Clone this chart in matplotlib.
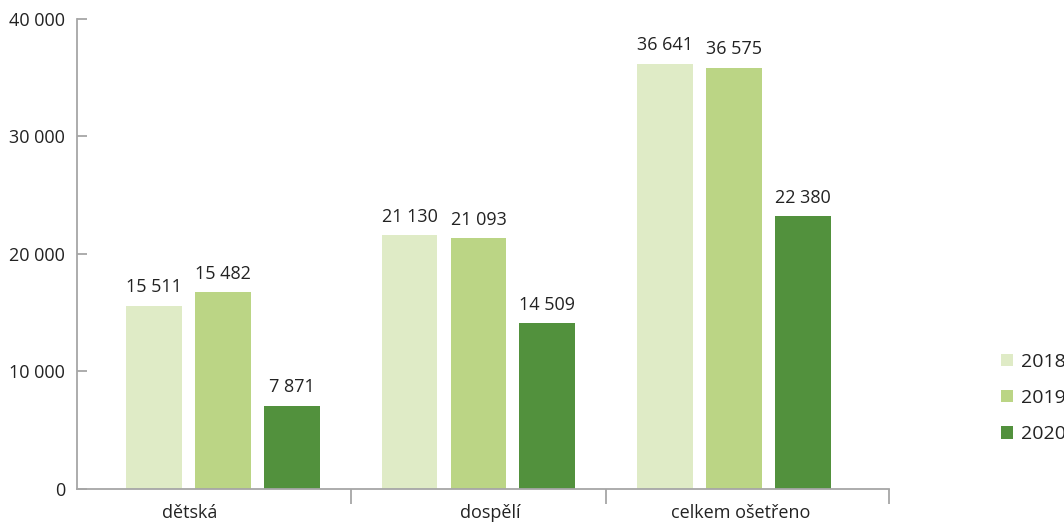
import numpy as np
import matplotlib
matplotlib.use("Agg")
import matplotlib.pyplot as plt
from matplotlib.ticker import FuncFormatter, FixedLocator

plt.rcParams['font.family'] = ['Open Sans', 'DejaVu Sans']

categories = ["dětská", "dospělí", "celkem ošetřeno"]
years = ["2018", "2019", "2020"]

# bar heights as drawn in the picture
heights_2018 = [15540, 21580, 36180]
heights_2019 = [16730, 21330, 35860]
heights_2020 = [7040, 14090, 23200]

# numbers printed above the bars
labels_2018 = [15511, 21130, 36641]
labels_2019 = [15482, 21093, 36575]
labels_2020 = [7871, 14509, 22380]

colors = ["#dfebc6", "#bbd585", "#52913d"]
text_color = "#222222"
axis_color = "#a6a6a6"


def fmt(v):
    return f"{v:,.0f}".replace(",", " ")


fig = plt.figure(figsize=(10.64, 5.24), dpi=100)
ax = fig.add_axes([0.0724, 0.0674, 0.8355 - 0.0724, 0.9637 - 0.0674])

x = np.arange(len(categories))
offset = 0.27
width = 0.219
series = [(heights_2018, labels_2018), (heights_2019, labels_2019), (heights_2020, labels_2020)]

for i, (h, lab) in enumerate(series):
    pos = x + (i - 1) * offset
    ax.bar(pos, h, width, color=colors[i], label=years[i], zorder=2)
    for px, hv, lv in zip(pos, h, lab):
        ax.annotate(fmt(lv), (px, hv), xytext=(0, 7), textcoords="offset points",
                    ha="center", va="bottom", fontsize=13, color=text_color)

ax.set_ylim(0, 40000)
ax.set_xlim(-0.5714, 2.6067)

for s in ["top", "right"]:
    ax.spines[s].set_visible(False)
for s in ["left", "bottom"]:
    ax.spines[s].set_color(axis_color)
    ax.spines[s].set_linewidth(1.3)

ax.set_yticks([0, 10000, 20000, 30000, 40000])
ax.yaxis.set_major_formatter(FuncFormatter(lambda v, p: fmt(v)))
ax.tick_params(axis="y", direction="in", length=7.2, width=1.3, color=axis_color,
               labelsize=13, labelcolor=text_color, pad=8.5)

# category names sit a little off the bar-group centres in the original
ax.set_xticks([-0.13, 1.045, 2.027])
ax.set_xticklabels(categories)
ax.xaxis.set_minor_locator(FixedLocator([0.5, 1.5, 2.6067]))
ax.tick_params(axis="x", which="major", length=0, labelsize=13, labelcolor=text_color, pad=11)
ax.tick_params(axis="x", which="minor", direction="out", length=10.6, width=1.3, color=axis_color)

# legend runs into the right edge, as in the original
ax.legend(loc="center left", bbox_to_anchor=(1001 / 1064, 0.2405),
          bbox_transform=fig.transFigure, frameon=False, fontsize=14,
          handlelength=0.62, handleheight=0.62, handletextpad=0.42,
          labelspacing=0.93, borderpad=0, borderaxespad=0, labelcolor=text_color)

fig.savefig("out.png", dpi=100)
